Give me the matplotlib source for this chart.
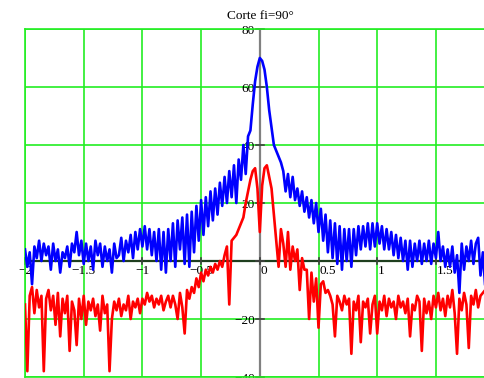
import numpy as np
import matplotlib
matplotlib.use("Agg")
import matplotlib.pyplot as plt
from matplotlib.transforms import offset_copy

# ---- data ----
x_start, x_step = -2.0, 0.02

blue_vals = [
    4, -2, 3, -8, 5, 1, 7, 0, 6, 2,
    5, -3, 6, 0, 4, -4, 3, 1, 5, -2,
    6, 3, 10, 2, 7, -1, 6, 0, 5, -3,
    7, 2, 6, -2, 5, 0, 4, -4, 6, 1,
    2, 8, 0, 7, 3, 9, 1, 10, 4, 11,
    5, 12, 4, 11, 2, 10, 0, 11, -3, 10,
    -4, 11, 0, 13, -2, 14, 4, 15, -1, 16,
    -2, 17, 3, 19, 7, 21, 9, 22, 12, 24,
    14, 25, 16, 27, 19, 29, 20, 31, 22, 33,
    20, 35, 28, 40, 30, 43, 45, 54, 62, 67,
    70, 69, 66, 60, 52, 46, 40, 38, 36, 34,
    31, 24, 30, 22, 29, 21, 25, 19, 24, 17,
    22, 15, 21, 13, 20, 10, 18, 7, 16, 3,
    14, 1, 13, -1, 12, -3, 11, 0, 11, -2,
    11, 2, 12, 4, 12, 5, 13, 4, 13, 5,
    13, 6, 12, 4, 11, 4, 10, 2, 9, 1,
    8, 0, 7, -3, 7, -2, 6, 0, 7, -1,
    6, 0, 7, -1, 6, 1, 10, 0, 5, -2,
    4, -2, 5, -4, 2, -11, 6, -3, 5, 0,
    7, -1, 6, 8, -5, 3, -9,
]

red_vals = [
    -15, -38, -12, -9, -18, -10, -16, -12, -38, -13,
    -10, -17, -12, -22, -11, -26, -13, -18, -12, -31,
    -14, -17, -29, -13, -20, -12, -22, -14, -17, -13,
    -19, -15, -24, -12, -18, -15, -38, -20, -14, -17,
    -13, -19, -15, -17, -12, -20, -14, -16, -13, -18,
    -13, -15, -11, -14, -12, -16, -13, -15, -12, -17,
    -14, -12, -16, -12, -15, -20, -11, -16, -25, -10,
    -13, -9, -11, -6, -9, -4, -7, -3, -5, -2,
    -4, -1, -3, 0, -2, 2, 5, -15, 7, 8,
    9, 11, 13, 15, 20, 24, 28, 31, 32, 25,
    10, 26, 32, 33, 29, 25, 16, 7, -2, 11,
    6, -2, 10, -3, 5, 0, 4, -10, 1, -3,
    -3, -20, -4, -14, -6, -23, -8, -7, -11, -10,
    -12, -15, -26, -12, -14, -17, -12, -15, -13, -32,
    -14, -17, -12, -28, -14, -16, -13, -25, -15, -12,
    -25, -14, -17, -12, -19, -13, -16, -14, -20, -12,
    -16, -14, -18, -13, -26, -15, -17, -12, -14, -31,
    -13, -18, -14, -20, -12, -16, -11, -17, -13, -19,
    -12, -16, -10, -18, -32, -13, -17, -11, -15, -30,
    -12, -15, -10, -16, -12, -11, -10,
]

x_ticks = [-2, -1.5, -1, -0.5, 0, 0.5, 1, 1.5]
x_tick_labels = ["−2", "−1.5", "−1", "−0.5", "0", "0.5", "1", "1.5"]
y_ticks = [-40, -20, 0, 20, 40, 60, 80]
y_tick_labels = ["−40", "−20", "", "20", "40", "60", "80"]
title = "Corte fi=90°"

x_blue = x_start + x_step * np.arange(len(blue_vals))
x_red = x_start + x_step * np.arange(len(red_vals))

# ---- figure ----
W, H = 484, 378
fig = plt.figure(figsize=(W / 100, H / 100), dpi=100)
plt.rcParams['font.family'] = ['Liberation Serif', 'DejaVu Serif']

px_per_half = 58.7
left_px, top_px, bottom_px = 25, 29, 377
ax = fig.add_axes([left_px / W, (H - bottom_px) / H,
                   8 * px_per_half / W, (bottom_px - top_px) / H])
ax.set_xlim(-2, 2)
ax.set_ylim(-40, 80)

green = '#22ee22'
for t in x_ticks:
    ax.axvline(t, color=green, lw=1.2, zorder=1)
for t in y_ticks:
    ax.axhline(t, color=green, lw=1.2, zorder=1)
for s in ax.spines.values():
    s.set_color(green)
    s.set_linewidth(1.2)
ax.set_xticks([])
ax.set_yticks([])

# crossed axes
ax.axvline(0, color='#808080', lw=1.6, zorder=2)
ax.axhline(0, color='#1f3f1f', lw=1.6, zorder=2)

# tick marks on axes
for t in y_ticks:
    ax.plot([-0.035, 0.035], [t, t], color='#404040', lw=1.2, zorder=2, clip_on=False)
for t in x_ticks:
    ax.plot([t, t], [-1.2, 1.2], color='#404040', lw=1.2, zorder=2, clip_on=False)

fs = 9.5
# y tick labels
for t, lab in zip(y_ticks, y_tick_labels):
    if lab:
        tr = offset_copy(ax.transData, fig=fig, x=-5, y=-2, units='dots')
        ax.text(0, t, lab, transform=tr, ha='right', va='center', fontsize=fs,
                zorder=1.5, clip_on=False)
# x tick labels
for t, lab in zip(x_ticks, x_tick_labels):
    if t < 0:
        tr = offset_copy(ax.transData, fig=fig, x=0, y=-4, units='dots')
        ha = 'center'
    else:
        tr = offset_copy(ax.transData, fig=fig, x=1, y=-4, units='dots')
        ha = 'left'
    ax.text(t, 0, lab, transform=tr, ha=ha, va='top', fontsize=fs,
            zorder=1.5, clip_on=False)

ax.plot(x_blue, blue_vals, color='#0000ff', lw=1.9, zorder=3)
ax.plot(x_red, red_vals, color='#ff0000', lw=1.9, zorder=3)

fig.text(260 / W, 1 - 16 / H, title, ha='center', va='center', fontsize=fs)

fig.savefig('out.png', dpi=100, facecolor='white')
